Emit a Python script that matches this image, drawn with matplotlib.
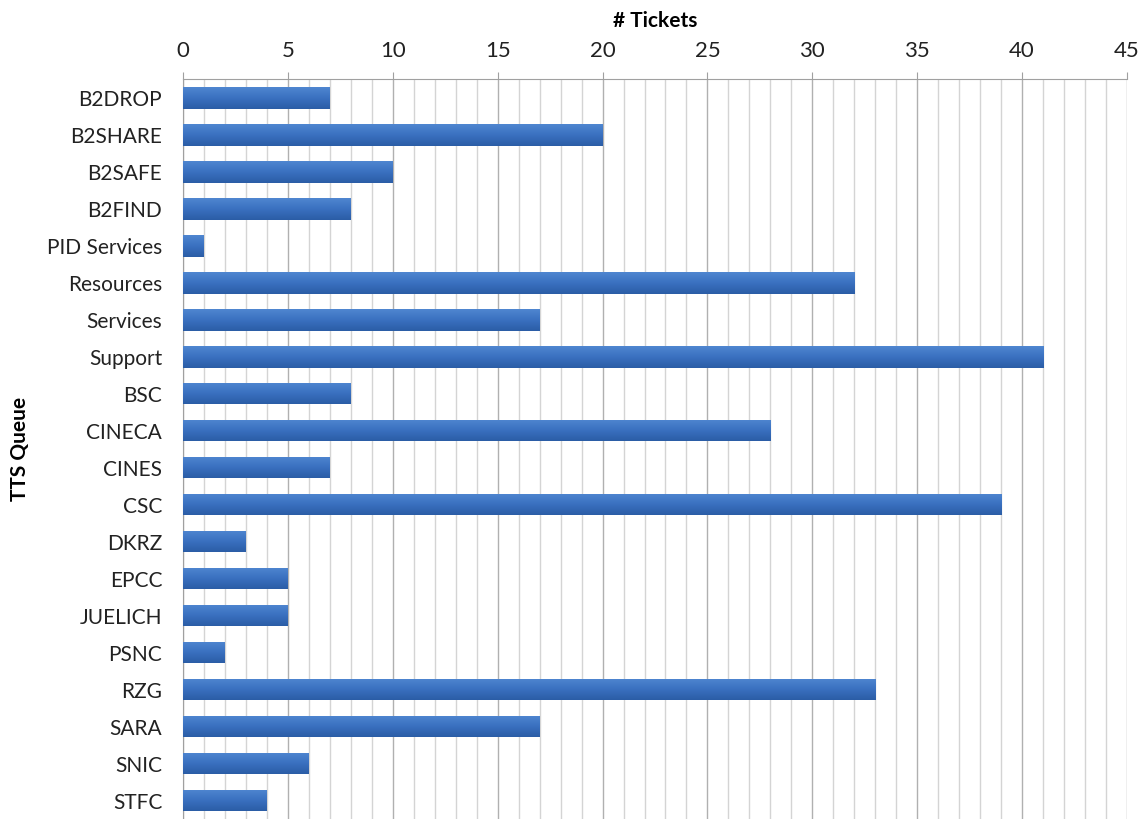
import matplotlib

matplotlib.use("Agg")
import matplotlib.pyplot as plt
import numpy as np
from matplotlib.colors import LinearSegmentedColormap
from matplotlib.ticker import MultipleLocator

queues = [
    "B2DROP", "B2SHARE", "B2SAFE", "B2FIND", "PID Services", "Resources",
    "Services", "Support", "BSC", "CINECA", "CINES", "CSC", "DKRZ", "EPCC",
    "JUELICH", "PSNC", "RZG", "SARA", "SNIC", "STFC",
]
tickets = [7, 20, 10, 8, 1, 32, 17, 41, 8, 28, 7, 39, 3, 5, 5, 2, 33, 17, 6, 4]
x_max = 45

plt.rcParams["font.family"] = ["Lato", "DejaVu Sans"]

fig = plt.figure(figsize=(11.41, 8.19), dpi=100)
ax = fig.add_axes([0.1604, 0.0, 0.8273, 0.903])

y = np.arange(len(queues))
bars = ax.barh(y, tickets, height=0.58, color="#3a6fbf", zorder=3)

# soft vertical gradient on each bar, like the spreadsheet export
cmap = LinearSegmentedColormap.from_list("bar", ["#4f86d0", "#3a70c0", "#2b5da6"])
grad = np.linspace(0, 1, 64).reshape(-1, 1)
for bar in bars:
    x0, y0 = bar.get_x(), bar.get_y()
    w, h = bar.get_width(), bar.get_height()
    im = ax.imshow(grad, cmap=cmap, aspect="auto", extent=[x0, x0 + w, y0 + h, y0],
                   zorder=4, interpolation="bilinear")
    im.set_clip_path(bar)

ax.set_xlim(0, x_max)
ax.set_ylim(len(queues) - 0.5, -0.5)
ax.set_yticks(y)
ax.set_yticklabels(queues)

ax.xaxis.set_major_locator(MultipleLocator(5))
ax.xaxis.set_minor_locator(MultipleLocator(1))
ax.xaxis.tick_top()
ax.xaxis.set_label_position("top")
ax.grid(axis="x", which="minor", color="#d4d4d4", linewidth=1.0, zorder=0)
ax.grid(axis="x", which="major", color="#b0b0b0", linewidth=1.0, zorder=0)

for side in ["right", "bottom"]:
    ax.spines[side].set_visible(False)
ax.spines["left"].set_color("#a0a0a0")
ax.spines["top"].set_color("#a0a0a0")

ax.tick_params(axis="x", which="major", length=5, color="#a0a0a0", labelsize=16,
               labelcolor="#222222", pad=8)
ax.tick_params(axis="x", which="minor", length=0)
ax.tick_params(axis="y", length=0, labelsize=15, labelcolor="#222222", pad=15)

ax.set_xlabel("# Tickets", fontsize=15, fontweight="bold", labelpad=10)
ax.set_ylabel("TTS Queue", fontsize=15, fontweight="bold", labelpad=12)

fig.savefig("out.png", dpi=100)
